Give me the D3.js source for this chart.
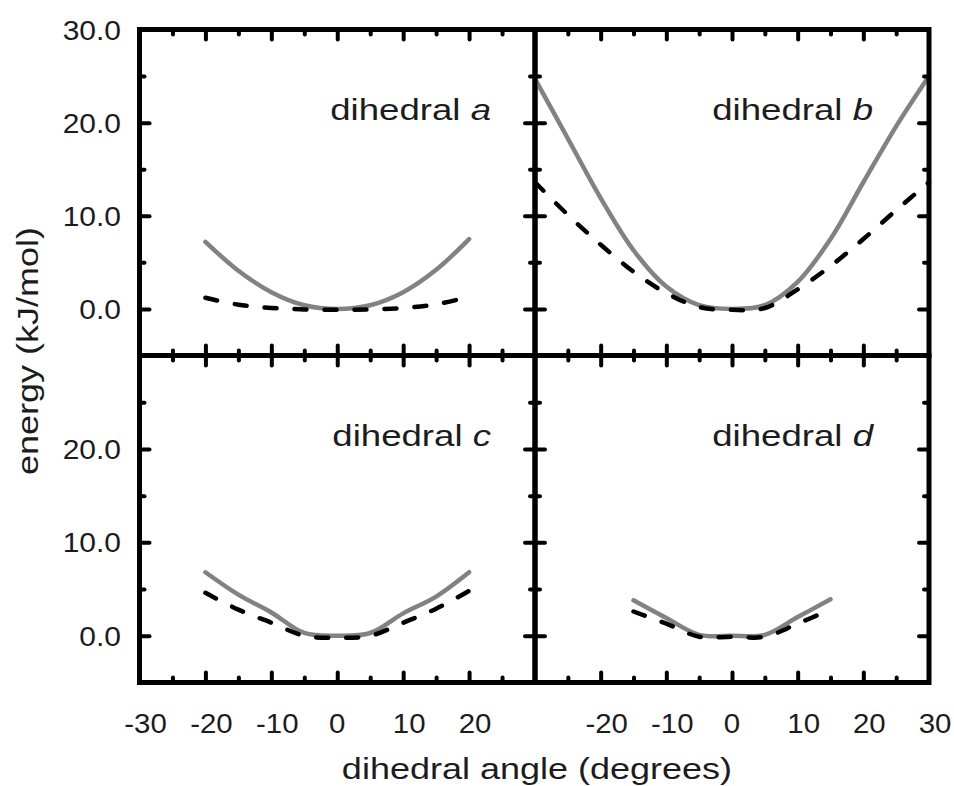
<!DOCTYPE html>
<html>
<head>
<meta charset="utf-8">
<script src="https://cdn.jsdelivr.net/npm/d3@7"></script>
<style>
  body { margin: 0; background: #fff; }
  text { font-family: "Liberation Sans", Arial, Helvetica, sans-serif; fill: #1c1c1c; }
</style>
</head>
<body>
<div id="canvas"></div>
<script>
// angles (degrees) sampled for each dihedral
const anglesA = [-20, -15, -10, -5, 0, 5, 10, 15, 20];
const anglesB = [-30, -25, -20, -15, -10, -5, 0, 5, 10, 15, 20, 25, 30];
const anglesC = [-20, -15, -10, -5, 0, 5, 10, 15, 20];
const anglesD = [-15, -10, -5, 0, 5, 10, 15];

// energy (kJ/mol): solid grey curve and dashed black curve
const solidA = [7.2, 4.1, 1.8, 0.4, 0, 0.4, 1.8, 4.2, 7.5];
const dashA  = [1.2, 0.45, 0.1, -0.05, -0.1, -0.05, 0.1, 0.5, 1.3];
const solidB = [24.7, 18.3, 11.9, 6.3, 2.4, 0.4, 0, 0.4, 2.9, 7.5, 13.6, 19.6, 25.0];
const dashB  = [13.6, 10.1, 6.9, 4.0, 1.7, 0.2, -0.1, 0.1, 2.1, 4.6, 7.5, 10.6, 13.6];
const solidC = [6.8, 4.4, 2.5, 0.3, 0, 0.3, 2.4, 4.2, 6.8];
const dashC  = [4.6, 2.8, 1.4, 0.0, -0.2, 0.0, 1.4, 2.9, 4.8];
const solidD = [3.8, 1.9, 0.1, 0, 0.1, 2.0, 3.9];
const dashD  = [2.6, 1.3, -0.1, -0.1, -0.1, 1.3, 2.8];

const panelNames = ["a", "b", "c", "d"];

// tick values / labels
const xMajor = [-20, -10, 0, 10, 20];
const xMinor = [-25, -15, -5, 5, 15, 25];
const yMajor = [0, 10, 20];
const yMinor = [5, 15, 25];
const yLabelsTop = [30, 20, 10, 0];
const yLabelsBottom = [20, 10, 0];
const xLabelsLeft = [-30, -20, -10, 0, 10, 20];
const xLabelsRight = [-20, -10, 0, 10, 20, 30];

const width = 954, height = 786;
const cols = [139.5, 535, 929];
const rows = [29.5, 355.5, 682.5];

const svg = d3.select("#canvas").append("svg")
  .attr("width", width)
  .attr("height", height);

function stretch(sel, k) {
  sel.each(function () {
    const L = this.getComputedTextLength();
    d3.select(this).attr("textLength", L * k).attr("lengthAdjust", "spacingAndGlyphs");
  });
}

const panels = [
  { name: panelNames[0], col: 0, row: 0, x: anglesA, solid: solidA, dash: dashA },
  { name: panelNames[1], col: 1, row: 0, x: anglesB, solid: solidB, dash: dashB },
  { name: panelNames[2], col: 0, row: 1, x: anglesC, solid: solidC, dash: dashC },
  { name: panelNames[3], col: 1, row: 1, x: anglesD, solid: solidD, dash: dashD }
];

panels.forEach(p => {
  const x = d3.scaleLinear().domain([-30, 30]).range([cols[p.col], cols[p.col + 1]]);
  const y = d3.scaleLinear().domain([-5, 30]).range([rows[p.row + 1], rows[p.row]]);
  const g = svg.append("g");

  const line = d3.line()
    .x(d => x(d[0]))
    .y(d => y(d[1]))
    .curve(d3.curveCatmullRom.alpha(0.5));

  g.append("path")
    .datum(p.x.map((a, i) => [a, p.solid[i]]))
    .attr("d", line)
    .attr("fill", "none")
    .attr("stroke", "#828282")
    .attr("stroke-width", 4.5)
    .attr("stroke-linecap", "round");

  g.append("path")
    .datum(p.x.map((a, i) => [a, p.dash[i]]))
    .attr("d", line)
    .attr("fill", "none")
    .attr("stroke", "#000")
    .attr("stroke-width", 4.5)
    .attr("stroke-dasharray", "12,18")
    .attr("stroke-linecap", "round");

  // inward ticks on all four sides
  const x0 = cols[p.col], x1 = cols[p.col + 1];
  const y0 = rows[p.row], y1 = rows[p.row + 1];
  const axes = [
    [d3.axisBottom(x), `translate(0,${y1})`, xMajor, xMinor],
    [d3.axisTop(x), `translate(0,${y0})`, xMajor, xMinor],
    [d3.axisLeft(y), `translate(${x0},0)`, yMajor, yMinor],
    [d3.axisRight(y), `translate(${x1},0)`, yMajor, yMinor]
  ];
  axes.forEach(([ax, tr, major, minor]) => {
    [[major, -10], [minor, -5]].forEach(([vals, size]) => {
      const a = g.append("g")
        .attr("transform", tr)
        .call(ax.tickValues(vals).tickSize(size).tickFormat(""));
      a.select(".domain").remove();
      a.selectAll("line")
        .attr("stroke", "#000")
        .attr("stroke-width", 4)
        .attr("stroke-linecap", "round");
    });
  });

  g.append("rect")
    .attr("x", x0).attr("y", y0)
    .attr("width", x1 - x0).attr("height", y1 - y0)
    .attr("fill", "none")
    .attr("stroke", "#000")
    .attr("stroke-width", 5);

  // panel label
  const lab = g.append("text")
    .attr("x", x1 - (p.col === 0 ? 44 : 56))
    .attr("y", y0 + 90)
    .attr("text-anchor", "end")
    .attr("font-size", 30);
  lab.append("tspan").text("dihedral ");
  lab.append("tspan").attr("font-style", "italic").text(p.name);
  stretch(lab, 1.22);

  if (p.col === 0) {
    const yl = g.selectAll(".ylab")
      .data(p.row === 0 ? yLabelsTop : yLabelsBottom)
      .enter().append("text")
      .attr("x", 121)
      .attr("y", d => y(d) + 10)
      .attr("text-anchor", "end")
      .attr("font-size", 28)
      .text(d => d3.format(".1f")(d));
    stretch(yl, 1.07);
  }
  if (p.row === 1) {
    const xl = g.selectAll(".xlab")
      .data(p.col === 0 ? xLabelsLeft : xLabelsRight)
      .enter().append("text")
      .attr("x", d => x(d) + (d === 0 ? 0 : 6))
      .attr("y", 733)
      .attr("text-anchor", "middle")
      .attr("font-size", 28)
      .text(d => String(d));
    stretch(xl, 1.05);
  }
});

const xt = svg.append("text")
  .attr("x", 537)
  .attr("y", 779)
  .attr("text-anchor", "middle")
  .attr("font-size", 30)
  .text("dihedral angle (degrees)");
stretch(xt, 1.2);

const yt = svg.append("text")
  .attr("transform", "translate(38,351) rotate(-90)")
  .attr("text-anchor", "middle")
  .attr("font-size", 30)
  .text("energy (kJ/mol)");
stretch(yt, 1.2);
</script>
</body>
</html>
